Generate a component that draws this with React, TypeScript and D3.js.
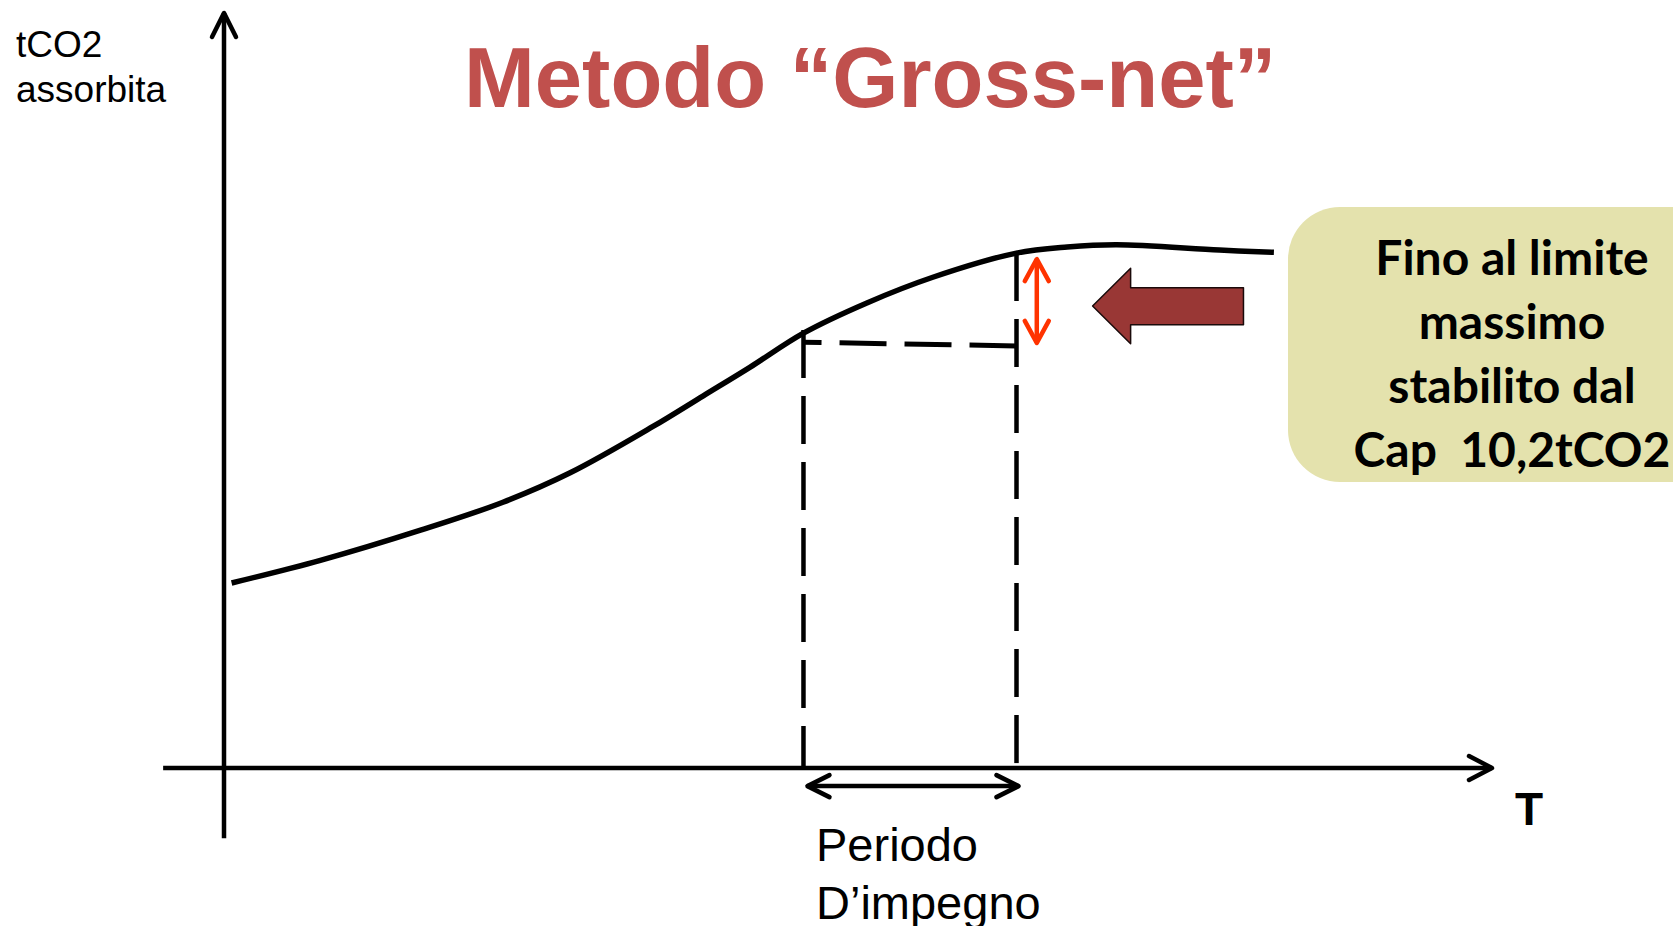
import React, { useEffect, useRef } from 'react';
import * as d3 from 'd3';

// curve of absorbed tCO2 over time (arbitrary units 0-100)
const curveT = [0.6, 7.6, 15.5, 22.0, 27.3, 33.8, 37.8, 41.5, 45.7, 50.7, 55.9, 62.5, 66.5, 70.4, 78.5, 82.8];
const curveV = [24.5, 27.5, 31.5, 35.2, 39.1, 45.2, 49.3, 53.1, 57.6, 61.6, 65.0, 68.2, 69.0, 69.3, 68.6, 68.3];

// commitment period (start, end) and the gross-net baseline level at both ends
const periodT = [45.7, 62.5];
const baselineV = [56.4, 55.9];

const titleText = 'Metodo \u201CGross-net\u201D';
const yLabel = ['tCO2', 'assorbita'];
const xLabel = 'T';
const periodLabel = ['Periodo', 'D\u2019impegno'];
const capLines = ['Fino al limite', 'massimo', 'stabilito dal', 'Cap  10,2tCO2'];

const App = () => {
    const svgRef = useRef(null);

    useEffect(() => {
        const svg = d3.select(svgRef.current);
        svg.selectAll('*').remove();

        const width = 1673;
        const height = 926;
        const font = '"Liberation Sans", Arial, sans-serif';

        const x = d3.scaleLinear().domain([0, 100]).range([224, 1492]);
        const y = d3.scaleLinear().domain([0, 100]).range([768, 13]);

        svg.append('rect').attr('width', width).attr('height', height).attr('fill', '#fff');

        // open chevron arrow head at (px,py) pointing in direction angle (radians)
        const chevron = (g, px, py, ang, len, half, color, sw) => {
            const bx = px - Math.cos(ang) * len;
            const by = py - Math.sin(ang) * len;
            const nx = -Math.sin(ang) * half;
            const ny = Math.cos(ang) * half;
            g.append('path')
                .attr('d', `M${bx + nx},${by + ny}L${px},${py}L${bx - nx},${by - ny}`)
                .attr('fill', 'none')
                .attr('stroke', color)
                .attr('stroke-width', sw)
                .attr('stroke-linecap', 'round')
                .attr('stroke-linejoin', 'round');
        };

        const g = svg.append('g');

        // axes
        g.append('line')
            .attr('x1', x(0)).attr('x2', x(0))
            .attr('y1', y(-9.3)).attr('y2', y(100))
            .attr('stroke', '#000').attr('stroke-width', 4.5);
        chevron(g, x(0), y(100), -Math.PI / 2, 24, 12, '#000', 4.5);

        g.append('line')
            .attr('x1', x(-4.8)).attr('x2', x(100))
            .attr('y1', y(0)).attr('y2', y(0))
            .attr('stroke', '#000').attr('stroke-width', 4.5);
        chevron(g, x(100), y(0), 0, 23, 12, '#000', 4.5);

        // dashed guides
        const vStart = curveV[curveT.indexOf(periodT[0])];
        const vEnd = curveV[curveT.indexOf(periodT[1])];
        g.append('line')
            .attr('x1', x(periodT[0])).attr('x2', x(periodT[0]))
            .attr('y1', y(vStart) - 3).attr('y2', y(0))
            .attr('stroke', '#000').attr('stroke-width', 4.5)
            .attr('stroke-dasharray', '48 18');
        g.append('line')
            .attr('x1', x(periodT[1])).attr('x2', x(periodT[1]))
            .attr('y1', y(vEnd)).attr('y2', y(0))
            .attr('stroke', '#000').attr('stroke-width', 4.5)
            .attr('stroke-dasharray', '48 18');
        g.append('line')
            .attr('x1', x(periodT[1])).attr('x2', x(periodT[0]))
            .attr('y1', y(baselineV[1])).attr('y2', y(baselineV[0]))
            .attr('stroke', '#000').attr('stroke-width', 5)
            .attr('stroke-dasharray', '47 18');

        // curve
        const line = d3.line()
            .x(d => x(d[0]))
            .y(d => y(d[1]))
            .curve(d3.curveCatmullRom.alpha(0.5));
        g.append('path')
            .datum(curveT.map((t, i) => [t, curveV[i]]))
            .attr('d', line)
            .attr('fill', 'none')
            .attr('stroke', '#000')
            .attr('stroke-width', 5.5);

        // period double arrow under the axis
        const pY = y(-2.4);
        g.append('line')
            .attr('x1', x(periodT[0]) + 4).attr('x2', x(periodT[1]) + 2)
            .attr('y1', pY).attr('y2', pY)
            .attr('stroke', '#000').attr('stroke-width', 4.5);
        chevron(g, x(periodT[0]) + 4, pY, Math.PI, 22, 11, '#000', 4.5);
        chevron(g, x(periodT[1]) + 2, pY, 0, 22, 11, '#000', 4.5);

        // red double arrow (gross-net difference)
        const rx = x(64.1);
        g.append('line')
            .attr('x1', rx).attr('x2', rx)
            .attr('y1', y(67.4)).attr('y2', y(56.3))
            .attr('stroke', '#FF3300').attr('stroke-width', 4.5);
        chevron(g, rx, y(67.4), -Math.PI / 2, 22, 12, '#FF3300', 4.5);
        chevron(g, rx, y(56.3), Math.PI / 2, 22, 12, '#FF3300', 4.5);

        // block arrow pointing to the curve
        const tipX = x(68.5), headX = x(71.5), endX = x(80.4);
        const midY = y(61.2);
        const blockPts = [
            [tipX, midY],
            [headX, y(66.2)],
            [headX, y(63.6)],
            [endX, y(63.6)],
            [endX, y(58.7)],
            [headX, y(58.7)],
            [headX, y(56.2)]
        ];
        g.append('path')
            .attr('d', d3.line()(blockPts) + 'Z')
            .attr('fill', '#993735')
            .attr('stroke', '#1a0a0a')
            .attr('stroke-width', 1.5)
            .attr('stroke-linejoin', 'round');

        // callout box
        g.append('rect')
            .attr('x', 1288).attr('y', 207)
            .attr('width', 460).attr('height', 275)
            .attr('rx', 52).attr('ry', 52)
            .attr('fill', '#E4E2AD');

        g.append('g')
            .selectAll('text')
            .data(capLines)
            .join('text')
            .attr('x', 1512)
            .attr('y', (d, i) => 275 + i * 64)
            .attr('text-anchor', 'middle')
            .attr('font-family', 'Lato, "Open Sans", sans-serif')
            .attr('font-weight', 700)
            .attr('font-size', 48)
            .style('white-space', 'pre')
            .attr('fill', '#000')
            .text(d => d);

        // title
        svg.append('text')
            .attr('x', 464).attr('y', 107)
            .attr('font-family', font)
            .attr('font-weight', 700)
            .attr('font-size', 85)
            .attr('fill', '#C0504D')
            .text(titleText);

        // y label
        svg.append('g')
            .selectAll('text')
            .data(yLabel)
            .join('text')
            .attr('x', 16)
            .attr('y', (d, i) => 57 + i * 45)
            .attr('font-family', font)
            .attr('font-size', 37)
            .attr('fill', '#000')
            .text(d => d);

        // x label
        svg.append('text')
            .attr('x', 1515).attr('y', 825)
            .attr('font-family', font)
            .attr('font-weight', 700)
            .attr('font-size', 46)
            .attr('fill', '#000')
            .text(xLabel);

        // period label
        svg.append('g')
            .selectAll('text')
            .data(periodLabel)
            .join('text')
            .attr('x', 816)
            .attr('y', (d, i) => 861 + i * 58)
            .attr('font-family', font)
            .attr('font-size', 47)
            .attr('fill', '#000')
            .text(d => d);
    }, []);

    return (
        <svg
            ref={svgRef}
            width="1673"
            height="926"
            style={{ position: 'absolute', left: 0, top: 0 }}
        ></svg>
    );
};

export default App;
